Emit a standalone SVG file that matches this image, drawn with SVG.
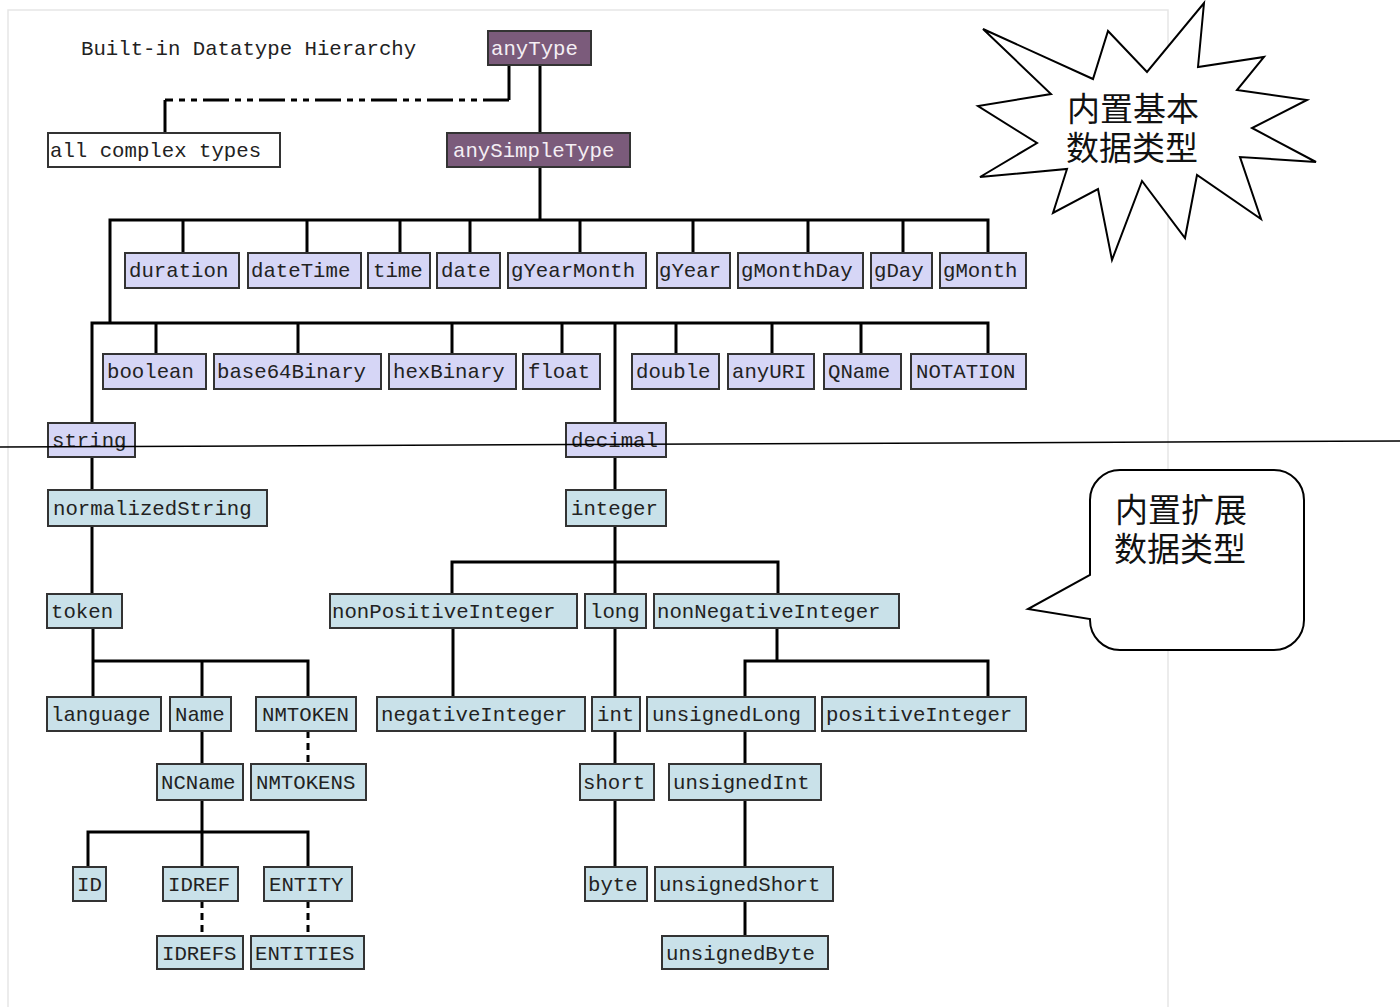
<svg xmlns="http://www.w3.org/2000/svg" width="1400" height="1007" viewBox="0 0 1400 1007">
<style>
.frame{fill:none;stroke:#e6e6e6;stroke-width:1.5}
.node rect{stroke:#333;stroke-width:2}
.p rect{fill:#7b5b7b}
.l rect{fill:#d6d6f6}
.b rect{fill:#c9e1e9}
.w rect{fill:#fff}
.node text{font-family:"Liberation Mono",monospace;font-size:20.7px;fill:#222}
.p text{fill:#f4eef4}
.title{font-family:"Liberation Mono",monospace;font-size:20.7px;fill:#222}
#connectors path{fill:none;stroke:#000;stroke-width:3;stroke-linejoin:miter}
#connectors .dash{stroke-dasharray:7 5}
#connectors .dashdot{stroke-dasharray:26 6 6 6 6 6}
.shape{fill:#fff;stroke:#000;stroke-width:2}
.cjk{font-family:"Noto Sans CJK SC",sans-serif;font-size:33px;fill:#111}
</style>
<rect width="1400" height="1007" fill="#fff"/>
<path class="frame" d="M8,1007 V10 H1168 V1007"/>
<text class="title" x="81" y="55">Built-in Datatype Hierarchy</text>

<g id="connectors">
<path d="M540,65 V133"/>
<path d="M509,65 V100"/>
<path class="dashdot" d="M509,100 H165"/>
<path d="M165,100 V133"/>
<path d="M540,167 V220"/>
<path d="M110,323 V220 H988 V253"/>
<path d="M183,220 V253 M307,220 V253 M400,220 V253 M470,220 V253 M580,220 V253 M693,220 V253 M808,220 V253 M903,220 V253"/>
<path d="M92,423 V323 H988 V354"/>
<path d="M156,323 V354 M298,323 V354 M452,323 V354 M562,323 V354 M676,323 V354 M772,323 V354 M861,323 V354"/>
<path d="M615,323 V423"/>
<path d="M92,457 V490 M92,526 V594"/>
<path d="M615,457 V490 M615,526 V594"/>
<path d="M452,594 V562 H778 V594"/>
<path d="M93,628 V697"/>
<path d="M93,661 H308 V697 M202,661 V697"/>
<path d="M202,731 V764"/>
<path class="dash" d="M308,731 V764"/>
<path d="M202,800 V867"/>
<path d="M88,867 V832 H308 V867"/>
<path class="dash" d="M202,901 V936"/>
<path class="dash" d="M308,901 V936"/>
<path d="M453,628 V697"/>
<path d="M615,628 V867"/>
<path d="M777,628 V661"/>
<path d="M745,697 V661 H988 V697"/>
<path d="M745,731 V936"/>
</g>

<g id="anyType" class="node p"><rect x="488" y="31" width="103" height="34"/><text x="491" y="55">anyType</text></g>
<g id="allComplexTypes" class="node w"><rect x="48" y="133" width="232" height="34"/><text x="50" y="157">all complex types</text></g>
<g id="anySimpleType" class="node p"><rect x="447" y="133" width="183" height="34"/><text x="453" y="157">anySimpleType</text></g>

<g id="duration" class="node l"><rect x="125" y="253" width="114" height="35"/><text x="129" y="277">duration</text></g>
<g id="dateTime" class="node l"><rect x="248" y="253" width="113" height="35"/><text x="251" y="277">dateTime</text></g>
<g id="time" class="node l"><rect x="368" y="253" width="62" height="35"/><text x="373" y="277">time</text></g>
<g id="date" class="node l"><rect x="437" y="253" width="63" height="35"/><text x="441" y="277">date</text></g>
<g id="gYearMonth" class="node l"><rect x="508" y="253" width="138" height="35"/><text x="511" y="277">gYearMonth</text></g>
<g id="gYear" class="node l"><rect x="657" y="253" width="73" height="35"/><text x="659" y="277">gYear</text></g>
<g id="gMonthDay" class="node l"><rect x="738" y="253" width="125" height="35"/><text x="741" y="277">gMonthDay</text></g>
<g id="gDay" class="node l"><rect x="871" y="253" width="61" height="35"/><text x="874" y="277">gDay</text></g>
<g id="gMonth" class="node l"><rect x="940" y="253" width="86" height="35"/><text x="943" y="277">gMonth</text></g>

<g id="boolean" class="node l"><rect x="103" y="354" width="103" height="35"/><text x="107" y="378">boolean</text></g>
<g id="base64Binary" class="node l"><rect x="214" y="354" width="167" height="35"/><text x="217" y="378">base64Binary</text></g>
<g id="hexBinary" class="node l"><rect x="389" y="354" width="127" height="35"/><text x="393" y="378">hexBinary</text></g>
<g id="float" class="node l"><rect x="523" y="354" width="77" height="35"/><text x="528" y="378">float</text></g>
<g id="double" class="node l"><rect x="632" y="354" width="87" height="35"/><text x="636" y="378">double</text></g>
<g id="anyURI" class="node l"><rect x="728" y="354" width="86" height="35"/><text x="732" y="378">anyURI</text></g>
<g id="QName" class="node l"><rect x="824" y="354" width="77" height="35"/><text x="828" y="378">QName</text></g>
<g id="NOTATION" class="node l"><rect x="911" y="354" width="115" height="35"/><text x="916" y="378">NOTATION</text></g>

<g id="string" class="node l"><rect x="48" y="423" width="87" height="34"/><text x="52" y="447">string</text></g>
<g id="decimal" class="node l"><rect x="566" y="423" width="100" height="34"/><text x="571" y="447">decimal</text></g>

<g id="normalizedString" class="node b"><rect x="48" y="490" width="219" height="36"/><text x="53" y="515">normalizedString</text></g>
<g id="integer" class="node b"><rect x="566" y="490" width="100" height="36"/><text x="571" y="515">integer</text></g>

<g id="token" class="node b"><rect x="47" y="594" width="75" height="34"/><text x="51" y="618">token</text></g>
<g id="nonPositiveInteger" class="node b"><rect x="330" y="594" width="247" height="34"/><text x="332" y="618">nonPositiveInteger</text></g>
<g id="long" class="node b"><rect x="585" y="594" width="61" height="34"/><text x="590" y="618">long</text></g>
<g id="nonNegativeInteger" class="node b"><rect x="654" y="594" width="245" height="34"/><text x="657" y="618">nonNegativeInteger</text></g>

<g id="language" class="node b"><rect x="47" y="697" width="114" height="34"/><text x="51" y="721">language</text></g>
<g id="Name" class="node b"><rect x="170" y="697" width="61" height="34"/><text x="175" y="721">Name</text></g>
<g id="NMTOKEN" class="node b"><rect x="256" y="697" width="100" height="34"/><text x="262" y="721">NMTOKEN</text></g>
<g id="negativeInteger" class="node b"><rect x="377" y="697" width="208" height="34"/><text x="381" y="721">negativeInteger</text></g>
<g id="int" class="node b"><rect x="592" y="697" width="48" height="34"/><text x="597" y="721">int</text></g>
<g id="unsignedLong" class="node b"><rect x="647" y="697" width="168" height="34"/><text x="652" y="721">unsignedLong</text></g>
<g id="positiveInteger" class="node b"><rect x="822" y="697" width="204" height="34"/><text x="826" y="721">positiveInteger</text></g>

<g id="NCName" class="node b"><rect x="157" y="764" width="86" height="36"/><text x="161" y="789">NCName</text></g>
<g id="NMTOKENS" class="node b"><rect x="251" y="764" width="115" height="36"/><text x="256" y="789">NMTOKENS</text></g>
<g id="short" class="node b"><rect x="580" y="764" width="74" height="36"/><text x="583" y="789">short</text></g>
<g id="unsignedInt" class="node b"><rect x="669" y="764" width="152" height="36"/><text x="673" y="789">unsignedInt</text></g>

<g id="ID" class="node b"><rect x="73" y="867" width="33" height="34"/><text x="77" y="891">ID</text></g>
<g id="IDREF" class="node b"><rect x="163" y="867" width="75" height="34"/><text x="168" y="891">IDREF</text></g>
<g id="ENTITY" class="node b"><rect x="264" y="867" width="88" height="34"/><text x="269" y="891">ENTITY</text></g>
<g id="byte" class="node b"><rect x="585" y="867" width="62" height="34"/><text x="588" y="891">byte</text></g>
<g id="unsignedShort" class="node b"><rect x="655" y="867" width="178" height="34"/><text x="659" y="891">unsignedShort</text></g>

<g id="IDREFS" class="node b"><rect x="157" y="936" width="86" height="33"/><text x="162" y="960">IDREFS</text></g>
<g id="ENTITIES" class="node b"><rect x="251" y="936" width="113" height="33"/><text x="255" y="960">ENTITIES</text></g>
<g id="unsignedByte" class="node b"><rect x="662" y="936" width="166" height="33"/><text x="666" y="960">unsignedByte</text></g>

<line x1="0" y1="447" x2="1400" y2="441" stroke="#000" stroke-width="1.5"/>

<g id="starNote">
<polygon class="shape" points="1204,3 1198,67 1264,57 1237,90 1307,100 1252,128 1316,162 1240,157 1261,219 1197,175 1185,238 1142,181 1112,260 1098,189 1053,213 1067,169 980,177 1037,143 978,106 1051,94 983,29 1093,79 1108,31 1147,72"/>
<text class="cjk" x="1067" y="121">内置基本</text>
<text class="cjk" x="1066" y="160">数据类型</text>
</g>

<g id="calloutNote">
<path class="shape" d="M1120,470 H1274 A30,30 0 0 1 1304,500 V620 A30,30 0 0 1 1274,650 H1120 A30,30 0 0 1 1090,620 V619 L1028,609 L1090,575 V500 A30,30 0 0 1 1120,470 Z"/>
<text class="cjk" x="1115" y="522">内置扩展</text>
<text class="cjk" x="1114" y="561">数据类型</text>
</g>
</svg>
